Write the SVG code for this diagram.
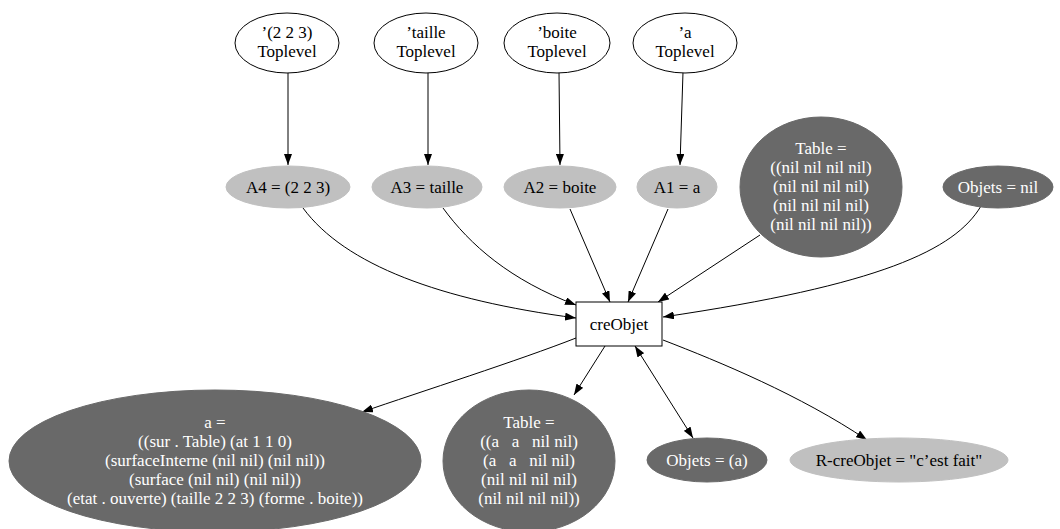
<svg xmlns="http://www.w3.org/2000/svg" width="1060" height="529" viewBox="0 0 1060 529" font-family="'Liberation Serif', Tinos, 'Times New Roman', 'DejaVu Serif', serif">
<style>
text{font-family:"Liberation Serif",Tinos,"Times New Roman","DejaVu Serif",serif;font-size:17px;text-anchor:middle;fill:#000}
.lt{fill:#ffffff}
.w{fill:#ffffff;stroke:#000;stroke-width:1}
.g{fill:#c0c0c0;stroke:#c0c0c0;stroke-width:1}
.d{fill:#696969;stroke:#696969;stroke-width:1}
.e{fill:none;stroke:#000;stroke-width:1}
.pre{white-space:pre}
</style>
<defs>
<marker id="ah" viewBox="0 0 11 8" refX="11" refY="4" markerWidth="11" markerHeight="8" orient="auto-start-reverse" markerUnits="userSpaceOnUse">
<path d="M0,0 L11,4 L0,8 z" fill="#000"/>
</marker>
</defs>
<rect width="1060" height="529" fill="#fff"/>
<g id="connectors">
<path class="e" d="M288,72 L288,165" marker-end="url(#ah)"/>
<path class="e" d="M428,72 L428,165" marker-end="url(#ah)"/>
<path class="e" d="M559,72 L560,165" marker-end="url(#ah)"/>
<path class="e" d="M683,72 L680,165" marker-end="url(#ah)"/>
<path class="e" d="M303,208 C345,265 440,300 576,318" marker-end="url(#ah)"/>
<path class="e" d="M443,208 C470,245 510,280 576,305" marker-end="url(#ah)"/>
<path class="e" d="M570,209 L610,302" marker-end="url(#ah)"/>
<path class="e" d="M668,209 L628,302" marker-end="url(#ah)"/>
<path class="e" d="M760,235 L658,302" marker-end="url(#ah)"/>
<path class="e" d="M981,206 C955,250 880,285 663,317" marker-end="url(#ah)"/>
<path class="e" d="M576,338 C520,360 420,392 362,412" marker-end="url(#ah)"/>
<path class="e" d="M605,346 L574,395" marker-end="url(#ah)"/>
<path class="e" d="M635,346 L693,438" marker-start="url(#ah)" marker-end="url(#ah)"/>
<path class="e" d="M663,340 C720,362 800,395 867,440" marker-end="url(#ah)"/>
</g>
<g id="q223">
<ellipse class="w" cx="287" cy="43" rx="52" ry="30"/>
<text x="287" y="38">’(2 2 3)</text>
<text x="287" y="57">Toplevel</text>
</g>
<g id="qtaille">
<ellipse class="w" cx="426" cy="43" rx="52" ry="30"/>
<text x="426" y="38">’taille</text>
<text x="426" y="57">Toplevel</text>
</g>
<g id="qboite">
<ellipse class="w" cx="557" cy="43" rx="53" ry="30"/>
<text x="557" y="38">’boite</text>
<text x="557" y="57">Toplevel</text>
</g>
<g id="qa">
<ellipse class="w" cx="685" cy="43" rx="52" ry="30"/>
<text x="685" y="38">’a</text>
<text x="685" y="57">Toplevel</text>
</g>
<g id="A4">
<ellipse class="g" cx="288" cy="187" rx="62" ry="21"/>
<text x="288" y="193">A4 = (2 2 3)</text>
</g>
<g id="A3">
<ellipse class="g" cx="427" cy="187" rx="55" ry="21"/>
<text x="427" y="193">A3 = taille</text>
</g>
<g id="A2">
<ellipse class="g" cx="560" cy="187" rx="56" ry="21"/>
<text x="560" y="193">A2 = boite</text>
</g>
<g id="A1">
<ellipse class="g" cx="677" cy="187" rx="40" ry="21"/>
<text x="677" y="193">A1 = a</text>
</g>
<g id="tableBefore">
<ellipse class="d" cx="821" cy="187" rx="81" ry="70"/>
<text class="lt" x="821" y="154">Table =</text>
<text class="lt" x="821" y="173">((nil nil nil nil)</text>
<text class="lt" x="821" y="192">(nil nil nil nil)</text>
<text class="lt" x="821" y="211">(nil nil nil nil)</text>
<text class="lt" x="821" y="230">(nil nil nil nil))</text>
</g>
<g id="objetsBefore">
<ellipse class="d" cx="998" cy="187" rx="55" ry="21"/>
<text class="lt" x="998" y="193">Objets = nil</text>
</g>
<g id="creObjet">
<rect class="w" x="576" y="302" width="86" height="44"/>
<text x="619" y="330">creObjet</text>
</g>
<g id="aAfter">
<ellipse class="d" cx="215" cy="461" rx="206" ry="71"/>
<text class="lt" x="215" y="428">a =</text>
<text class="lt" x="215" y="447">((sur . Table) (at 1 1 0)</text>
<text class="lt" x="215" y="466">(surfaceInterne (nil nil) (nil nil))</text>
<text class="lt" x="215" y="485">(surface (nil nil) (nil nil))</text>
<text class="lt" x="215" y="504">(etat . ouverte) (taille 2 2 3) (forme . boite))</text>
</g>
<g id="tableAfter">
<ellipse class="d" cx="529" cy="461" rx="86" ry="71"/>
<text class="lt" x="529" y="428">Table =</text>
<text class="lt pre" x="529" y="447" xml:space="preserve">((a   a   nil nil)</text>
<text class="lt pre" x="529" y="466" xml:space="preserve">(a   a   nil nil)</text>
<text class="lt" x="529" y="485">(nil nil nil nil)</text>
<text class="lt" x="529" y="504">(nil nil nil nil))</text>
</g>
<g id="objetsAfter">
<ellipse class="d" cx="707" cy="460" rx="60" ry="22"/>
<text class="lt" x="707" y="466">Objets = (a)</text>
</g>
<g id="result">
<ellipse class="g" cx="899" cy="460" rx="109" ry="22"/>
<text x="899" y="466">R-creObjet = "c’est fait"</text>
</g>
</svg>
